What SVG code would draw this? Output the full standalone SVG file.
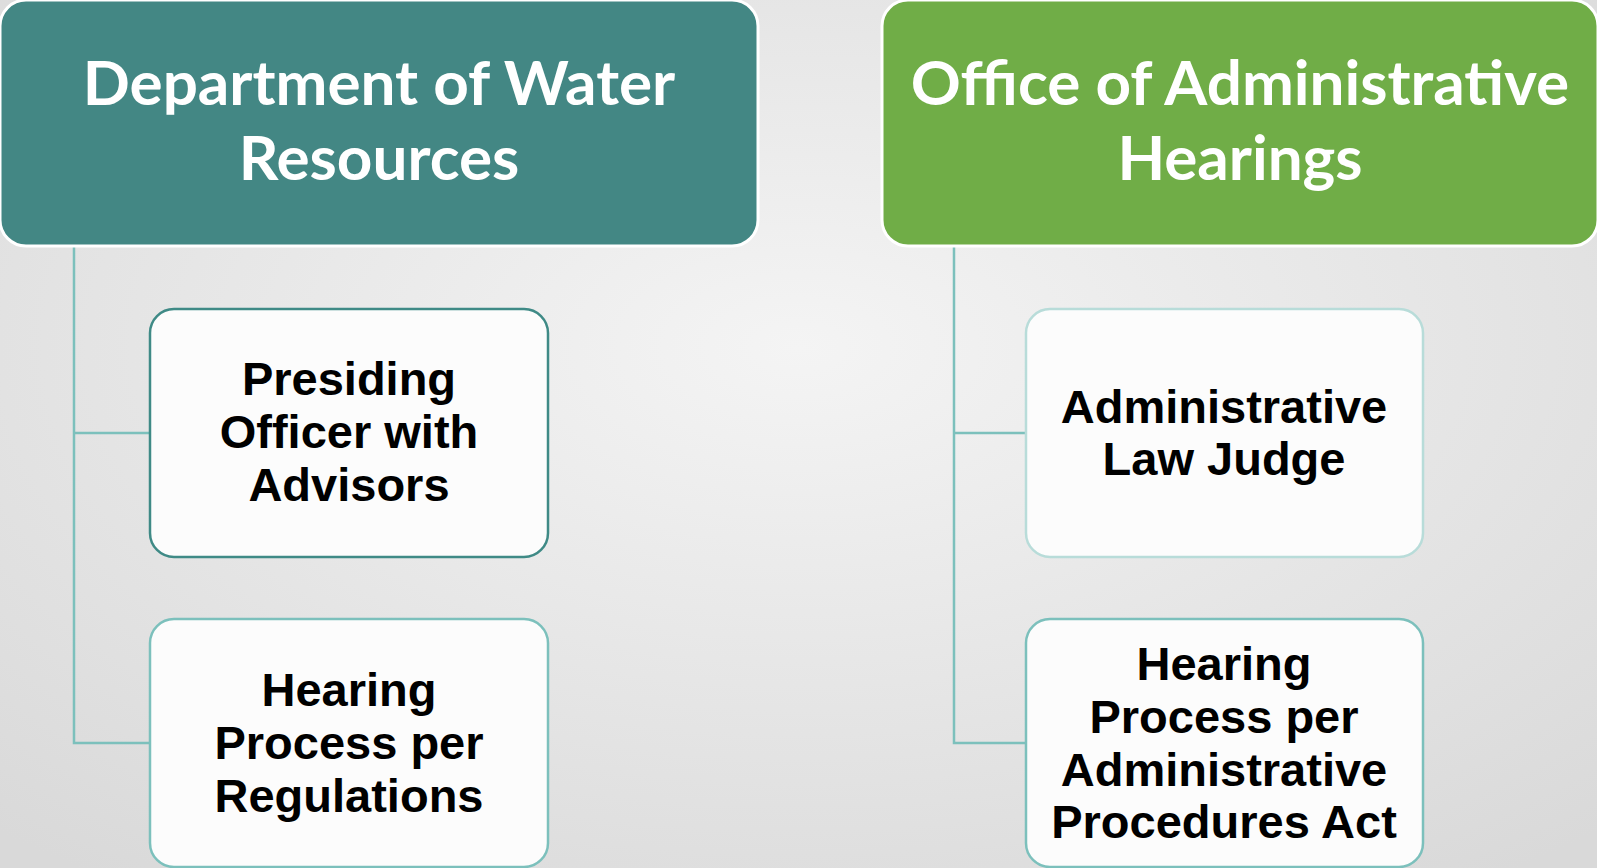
<svg xmlns="http://www.w3.org/2000/svg" width="1597" height="868" viewBox="0 0 1597 868">
<defs>
<radialGradient id="bg" cx="0.5" cy="0.4" r="0.75">
<stop offset="0" stop-color="#f4f4f4"/>
<stop offset="1" stop-color="#d9d9d9"/>
</radialGradient>
<style>
.hdr{stroke:#ffffff;stroke-width:3}
.hdrtxt{font-family:Lato,"Open Sans",sans-serif;font-weight:bold;font-size:62px;fill:#ffffff;text-anchor:middle}
.child{fill:#fcfcfc;stroke-width:2.5}
.ctxt{font-family:"Liberation Sans",Arial,sans-serif;font-weight:bold;font-size:47px;fill:#000000;text-anchor:middle}
.conn{fill:none;stroke:#7cc0bc;stroke-width:2.5}
</style>
</defs>
<rect width="1597" height="868" fill="url(#bg)"/>
<g id="connectors">
<path class="conn" d="M74 246 V743 H150 M74 433 H150"/>
<path class="conn" d="M954 246 V743 H1026 M954 433 H1026"/>
</g>
<g id="dwr">
<rect class="hdr" x="0" y="0" width="758" height="246" rx="26" fill="#438784"/>
<text class="hdrtxt" x="379" y="105">Department of Water</text>
<text class="hdrtxt" x="379" y="180">Resources</text>
</g>
<g id="oah">
<rect class="hdr" x="882" y="0" width="716" height="246" rx="26" fill="#70ad47"/>
<text class="hdrtxt" x="1240" y="105">Office of Administrative</text>
<text class="hdrtxt" x="1240" y="180">Hearings</text>
</g>
<g id="presiding">
<rect class="child" x="150" y="309" width="398" height="248" rx="24" stroke="#3f8a86"/>
<text class="ctxt" x="349" y="395">Presiding</text>
<text class="ctxt" x="349" y="448">Officer with</text>
<text class="ctxt" x="349" y="501">Advisors</text>
</g>
<g id="hearing-reg">
<rect class="child" x="150" y="619" width="398" height="248" rx="24" stroke="#7cc0bc"/>
<text class="ctxt" x="349" y="706">Hearing</text>
<text class="ctxt" x="349" y="759">Process per</text>
<text class="ctxt" x="349" y="812">Regulations</text>
</g>
<g id="alj">
<rect class="child" x="1026" y="309" width="397" height="248" rx="24" stroke="#b8dcd9"/>
<text class="ctxt" x="1224" y="423">Administrative</text>
<text class="ctxt" x="1224" y="475">Law Judge</text>
</g>
<g id="hearing-apa">
<rect class="child" x="1026" y="619" width="397" height="248" rx="24" stroke="#7cc0bc"/>
<text class="ctxt" x="1224" y="680">Hearing</text>
<text class="ctxt" x="1224" y="733">Process per</text>
<text class="ctxt" x="1224" y="786">Administrative</text>
<text class="ctxt" x="1224" y="838">Procedures Act</text>
</g>
</svg>
